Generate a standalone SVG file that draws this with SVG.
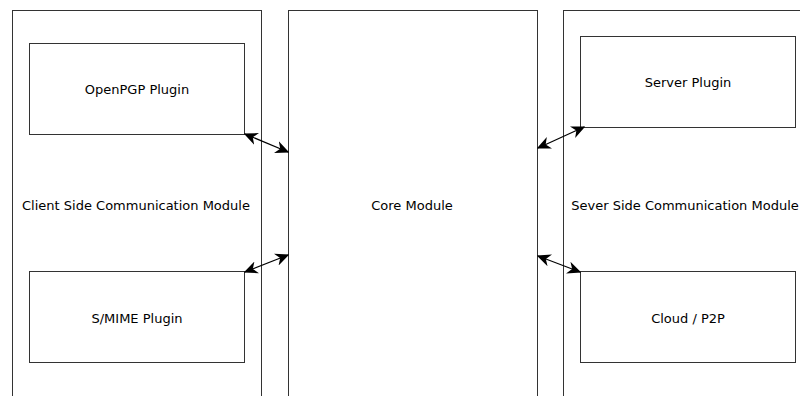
<svg xmlns="http://www.w3.org/2000/svg" width="800" height="396" viewBox="0 0 800 396">
<style>
.box{fill:#fff;stroke:#333;stroke-width:1}
.t{font-family:"DejaVu Sans",sans-serif;font-size:13px;fill:#000;text-anchor:middle;dominant-baseline:central}
.c{stroke:#000;stroke-width:1.2;fill:none;marker-start:url(#ah);marker-end:url(#ah)}
</style>
<defs>
<marker id="ah" viewBox="0 0 10 10" refX="9" refY="5" markerWidth="14" markerHeight="14" markerUnits="userSpaceOnUse" orient="auto-start-reverse">
<path d="M0,0.5 L10,5 L0,9.5 L3,5 z" fill="#000"/>
</marker>
</defs>
<rect width="800" height="396" fill="#fff"/>
<g id="client">
<rect class="box" x="12.5" y="10.5" width="249" height="400"/>
<text class="t" x="136" y="205">Client Side Communication Module</text>
</g>
<g id="core">
<rect class="box" x="288.5" y="10.5" width="249" height="400"/>
<text class="t" x="412" y="205">Core Module</text>
</g>
<g id="server">
<rect class="box" x="563.5" y="10.5" width="260" height="400"/>
<text class="t" x="685" y="205">Sever Side Communication Module</text>
</g>
<g id="openpgp">
<rect class="box" x="29.5" y="43.5" width="215" height="91"/>
<text class="t" x="137" y="89">OpenPGP Plugin</text>
</g>
<g id="smime">
<rect class="box" x="29.5" y="271.5" width="215" height="91"/>
<text class="t" x="137" y="318">S/MIME Plugin</text>
</g>
<g id="serverplugin">
<rect class="box" x="580.5" y="36.5" width="215" height="91"/>
<text class="t" x="688" y="82">Server Plugin</text>
</g>
<g id="cloud">
<rect class="box" x="580.5" y="271.5" width="215" height="91"/>
<text class="t" x="688" y="318">Cloud / P2P</text>
</g>
<g id="connectors">
<line class="c" x1="245" y1="134" x2="288" y2="152"/>
<line class="c" x1="245" y1="272" x2="288" y2="255"/>
<line class="c" x1="538" y1="148" x2="584" y2="127"/>
<line class="c" x1="538" y1="256" x2="580" y2="272"/>
</g>
</svg>
